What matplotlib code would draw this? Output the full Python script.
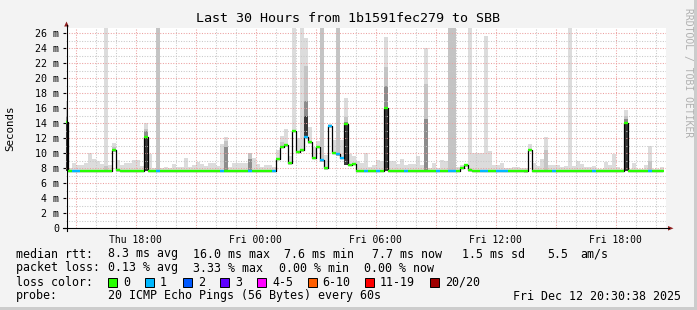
import matplotlib
matplotlib.use("Agg")
import matplotlib.pyplot as plt
from matplotlib.lines import Line2D
from matplotlib.patches import Rectangle, Polygon

# one column every 12 minutes, column k is centred 0.2*k hours after Thu 14:30
median_ms = [
    14.2, 7.7, 7.7, 7.7, 7.7, 7.7, 7.7, 7.7, 7.7, 7.7,
    7.7, 7.7, 10.4, 7.8, 7.7, 7.7, 7.7, 7.7, 7.7, 7.7,
    12.2, 7.7, 7.7, 7.7, 7.7, 7.7, 7.7, 7.7, 7.7, 7.7,
    7.7, 7.7, 7.7, 7.7, 7.7, 7.7, 7.7, 7.7, 7.7, 7.7,
    7.7, 7.7, 7.7, 7.7, 7.7, 7.7, 7.7, 7.7, 7.7, 7.7,
    7.7, 7.7, 7.7, 9.3, 10.9, 11.1, 8.75, 13.0, 10.2, 10.45,
    12.2, 11.5, 9.4, 10.9, 9.1, 8.0, 13.6, 10.1, 9.9, 9.4,
    13.9, 8.5, 8.6, 7.7, 7.7, 7.7, 7.7, 7.7, 7.7, 7.7,
    16.1, 7.7, 7.7, 7.7, 7.7, 7.7, 7.7, 7.7, 7.7, 7.7,
    7.7, 7.7, 7.7, 7.7, 7.7, 7.7, 7.7, 7.7, 7.7, 8.1,
    8.4, 7.8, 7.7, 7.7, 7.7, 7.7, 7.7, 7.7, 7.7, 7.7,
    7.7, 7.7, 7.7, 7.7, 7.7, 7.6, 10.5, 7.7, 7.7, 7.7,
    7.7, 7.7, 7.7, 7.7, 7.7, 7.7, 7.7, 7.7, 7.7, 7.7,
    7.7, 7.7, 7.7, 7.7, 7.7, 7.7, 7.7, 7.7, 7.7, 7.7,
    14.0, 7.7, 7.7, 7.7, 7.7, 7.7, 7.7, 7.7, 7.7, 7.7,
]

# lost pings per column (0 or 1 here)
loss = [
    0, 0, 1, 1, 0, 0, 0, 0, 0, 0,
    0, 0, 0, 0, 0, 0, 0, 0, 0, 0,
    0, 0, 0, 1, 0, 0, 0, 0, 0, 0,
    0, 0, 0, 0, 0, 0, 0, 0, 0, 1,
    0, 0, 0, 0, 0, 0, 1, 0, 0, 0,
    0, 0, 1, 0, 0, 0, 0, 0, 0, 0,
    1, 0, 0, 0, 1, 0, 1, 0, 1, 1,
    0, 0, 0, 0, 0, 1, 0, 0, 1, 0,
    0, 0, 0, 0, 0, 1, 0, 0, 0, 0,
    0, 0, 0, 1, 0, 0, 1, 1, 0, 0,
    0, 0, 0, 0, 1, 1, 0, 0, 1, 1,
    1, 0, 0, 0, 0, 0, 0, 0, 0, 0,
    0, 0, 1, 0, 0, 0, 0, 0, 0, 0,
    0, 0, 1, 0, 0, 0, 0, 0, 0, 0,
    0, 0, 0, 0, 0, 0, 1, 0, 0, 0,
]

# smoke: fastest and slowest ping of each column
smoke_lo = [
    7.7, 7.5, 7.5, 7.5, 7.5, 7.5, 7.5, 7.5, 7.5, 7.5,
    7.5, 7.5, 10.2, 7.5, 7.5, 7.5, 7.5, 7.5, 7.5, 7.5,
    7.7, 7.5, 7.5, 7.5, 7.5, 7.5, 7.5, 7.5, 7.5, 7.5,
    7.5, 7.5, 7.5, 7.5, 7.5, 7.5, 7.5, 7.5, 7.5, 7.5,
    7.5, 7.5, 7.5, 7.5, 7.5, 7.5, 7.5, 7.5, 7.5, 7.5,
    7.5, 7.5, 7.5, 9.1, 10.7, 10.9, 8.5, 12.8, 10.0, 10.2,
    12.0, 11.3, 9.2, 10.7, 8.9, 7.8, 13.4, 9.9, 9.7, 9.2,
    8.5, 8.3, 8.4, 7.5, 7.5, 7.5, 7.5, 7.5, 7.5, 7.5,
    7.7, 7.5, 7.5, 7.5, 7.5, 7.5, 7.5, 7.5, 7.5, 7.5,
    7.5, 7.5, 7.5, 7.5, 7.5, 7.5, 7.5, 7.5, 7.5, 7.9,
    8.2, 7.5, 7.5, 7.5, 7.5, 7.5, 7.5, 7.5, 7.5, 7.5,
    7.5, 7.5, 7.5, 7.5, 7.5, 7.4, 10.3, 7.5, 7.5, 7.5,
    7.5, 7.5, 7.5, 7.5, 7.5, 7.5, 7.5, 7.5, 7.5, 7.5,
    7.5, 7.5, 7.5, 7.5, 7.5, 7.5, 7.5, 7.5, 7.5, 7.5,
    7.7, 7.5, 7.5, 7.5, 7.5, 7.5, 7.5, 7.5, 7.5, 7.5,
]
smoke_hi = [
    17.0, 8.1, 8.7, 8.5, 8.5, 8.7, 10.0, 9.3, 9.0, 8.6,
    30, 8.5, 11.4, 9.05, 8.5, 8.7, 8.7, 9.1, 9.1, 8.3,
    14.1, 9.9, 8.1, 30, 8.1, 8.2, 8.1, 8.6, 8.2, 8.2,
    9.4, 8.2, 8.5, 8.9, 8.6, 8.3, 8.7, 8.7, 8.3, 11.2,
    12.2, 8.2, 8.7, 8.7, 8.7, 8.7, 10.1, 9.4, 8.6, 8.2,
    8.5, 8.5, 8.2, 10.5, 12.3, 13.2, 9.6, 30, 12.0, 30,
    25.4, 13.5, 10.9, 11.6, 30, 9.8, 13.9, 11.8, 30, 11.8,
    17.4, 9.9, 9.6, 9.0, 8.7, 10.0, 8.2, 8.5, 9.05, 9.0,
    25.5, 9.0, 9.0, 8.6, 9.3, 8.5, 8.6, 8.6, 9.7, 8.5,
    24.1, 8.1, 8.7, 8.1, 9.05, 9.0, 30, 30, 8.2, 8.4,
    8.6, 30, 10.1, 10.1, 10.1, 25.6, 10.3, 8.5, 8.5, 8.7,
    8.1, 8.1, 8.2, 8.2, 8.0, 8.0, 11.3, 8.7, 8.3, 9.3,
    12.2, 8.5, 8.5, 8.5, 8.2, 8.3, 30, 8.3, 9.0, 8.6,
    8.2, 8.2, 8.3, 7.9, 7.9, 8.9, 8.4, 9.9, 8.2, 7.9,
    15.8, 7.9, 8.7, 7.9, 7.9, 8.5, 11.0, 7.9, 7.9, 8.2,
]
# denser parts of the smoke (column index -> top)
smoke_mid = {0: 16.0, 10: 8.3, 12: 10.9, 20: 13.2, 23: 30, 40: 11.6, 46: 10.1,
             54: 11.5, 60: 21.6, 64: 30, 68: 30, 70: 14.8, 80: 21.5, 90: 19.3,
             96: 30, 97: 30, 120: 10.5, 140: 15.0, 146: 9.0}
smoke_dim = {0: 15.0, 20: 13.0, 40: 10.8, 46: 9.3, 60: 17.0, 70: 14.2,
             80: 19.0, 90: 14.6, 140: 14.6}
smoke_core = {0: 14.2, 20: 12.2, 60: 15.0, 70: 13.9, 80: 16.1, 140: 14.0}

loss_colors = ["#26ff00", "#00b8ff"]
legend_labels = ["0", "1", "2", "3", "4-5", "6-10", "11-19", "20/20"]
legend_colors = ["#26ff00", "#00b8ff", "#0059ff", "#5e00ff", "#ff00ff",
                 "#ff5e00", "#ff0000", "#a00000"]
tick_hours = [3.5, 9.5, 15.5, 21.5, 27.5]
tick_names = ["Thu 18:00", "Fri 00:00", "Fri 06:00", "Fri 12:00", "Fri 18:00"]

W, H = 697, 310
MONO = "DejaVu Sans Mono"


def fx(x):
    return x / W


def fy(y):
    return 1 - y / H


fig = plt.figure(figsize=(W / 100, H / 100), dpi=100, facecolor="#f3f3f3")
ax = fig.add_axes([fx(65.7), fy(228.3), 600 / W, 200.3 / H])
ax.set_facecolor("white")
for s in ax.spines.values():
    s.set_visible(False)

xc = [0.2 * k for k in range(len(median_ms))]

# smoke layers
ax.bar(xc, [h - l for h, l in zip(smoke_hi, smoke_lo)], bottom=smoke_lo,
       width=0.2, color="#dcdcdc", linewidth=0, zorder=1)
for layer, col, z in [(smoke_mid, "#c4c4c4", 2), (smoke_dim, "#8c8c8c", 3),
                      (smoke_core, "#383838", 4)]:
    ks = list(layer)
    ax.bar([xc[k] for k in ks], [layer[k] - smoke_lo[k] for k in ks],
           bottom=[smoke_lo[k] for k in ks], width=0.2, color=col,
           linewidth=0, zorder=z)

# grid on top of the smoke
for h in range(30):
    major = (h % 3 == 0)
    ax.axvline(h + 0.5, color="#eca0a0" if major else "#c8c8c8",
               lw=0.75, ls=(0, (1, 1.5)), zorder=5)
for v in range(1, 27):
    ax.axhline(v, color="#eca0a0" if v % 2 == 0 else "#c8c8c8",
               lw=0.75, ls=(0, (1, 1.5)), zorder=5)

# median line
ax.step(xc, median_ms, where="mid", color="black", lw=0.9, zorder=6)
ax.hlines(median_ms, [x - 0.1 for x in xc], [x + 0.1 for x in xc],
          colors=[loss_colors[l] for l in loss], lw=1.7, zorder=7)

ax.set_xlim(0, 30)
ax.set_ylim(0, 26.7)
ax.set_xticks(tick_hours)
ax.set_xticklabels(tick_names, family=MONO, fontsize=7)
ax.set_yticks(range(0, 27, 2))
ax.set_yticklabels(["0"] + ["%d m" % v for v in range(2, 27, 2)],
                   family=MONO, fontsize=7.2)
ax.tick_params(axis="x", length=0, pad=4.5)
ax.tick_params(axis="y", length=2.5, width=0.8, pad=2)

# axes with arrows
fig.add_artist(Line2D([fx(66.5), fx(66.5)], [fy(231), fy(25)], color="black", lw=0.8))
fig.add_artist(Line2D([fx(63), fx(669)], [fy(228.3), fy(228.3)], color="black", lw=0.8))
fig.add_artist(Polygon([(fx(64.2), fy(26.5)), (fx(68.8), fy(26.5)), (fx(66.5), fy(21.5))],
                       closed=True, color="#902020", lw=0))
fig.add_artist(Polygon([(fx(668), fy(226)), (fx(668), fy(230.6)), (fx(673.5), fy(228.3))],
                       closed=True, color="#902020", lw=0))

# frame
fig.add_artist(Rectangle((fx(694), 0), 3 / W, 1, color="#cccccc", lw=0))
fig.add_artist(Rectangle((0, 0), 1, 3 / H, color="#cccccc", lw=0))

fig.text(0.5, fy(18.5), "Last 30 Hours from 1b1591fec279 to SBB",
         ha="center", va="center", family=MONO, fontsize=9.6)
fig.text(fx(10), fy(128), "Seconds", rotation=90, ha="center", va="center",
         family=MONO, fontsize=7.8)
fig.text(fx(687.5), fy(73), "RRDTOOL / TOBI OETIKER", rotation=270,
         ha="center", va="center", family=MONO, fontsize=7, color="#b0b0b0")

# legend block
rows = [
    (254, [(16, "median rtt:"), (107.5, "8.3 ms avg"), (193, "16.0 ms max"),
           (284, "7.6 ms min"), (372, "7.7 ms now"), (462, "1.5 ms sd"),
           (547.5, "5.5"), (580, "am/s")]),
    (268, [(16, "packet loss:"), (107.5, "0.13 % avg"), (193, "3.33 % max"),
           (279, "0.00 % min"), (364, "0.00 % now")]),
    (282, [(16, "loss color:")]),
    (296, [(16, "probe:"), (107.5, "20 ICMP Echo Pings (56 Bytes) every 60s")]),
]
for y, items in rows:
    for x, s in items:
        fig.text(fx(x), fy(y), s, ha="left", va="center", family=MONO, fontsize=8.4)
fig.text(fx(681), fy(296), "Fri Dec 12 20:30:38 2025", ha="right", va="center",
         family=MONO, fontsize=8.4)

box_x = [108, 145, 183, 220, 257, 307.5, 365, 430]
for bx, lab, col in zip(box_x, legend_labels, legend_colors):
    fig.add_artist(Rectangle((fx(bx), fy(286.5)), 9 / W, 9 / H, facecolor=col,
                             edgecolor="black", lw=0.7))
    fig.text(fx(bx + 15), fy(282), lab, ha="left", va="center", family=MONO, fontsize=8.4)

fig.savefig("out.png", dpi=100, facecolor=fig.get_facecolor())
